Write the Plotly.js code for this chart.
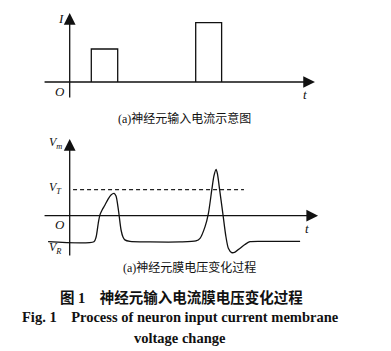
<!DOCTYPE html>
<html>
<head>
<meta charset="utf-8">
<script src="https://cdn.plot.ly/plotly-3.0.1.min.js"></script>
<style>
html,body{margin:0;padding:0;background:#fff;}
#chart{width:391px;height:351px;}
</style>
</head>
<body>
<div id="chart"></div>
<script>
// ---- Data ----
// (a) input current pulses (time units, relative amplitude)
const pulseStart = [9.0, 52.5];
const pulseEnd   = [20.0, 63.3];
const pulseAmp   = [1.0, 1.8];

// (b) membrane voltage trace (time units, voltage units; VR = -10, VT = 10)
const membraneT = [-9.0, 10.1, 11.0, 11.9, 12.6, 13.5, 14.7, 16.0, 17.2, 18.5, 19.3, 20.3, 21.4, 22.2, 23.0, 25.1, 33.5, 46.0, 52.6, 54.3, 56.4, 57.8, 59.2, 60.1, 61.0, 61.6, 62.3, 63.8, 65.1, 66.1, 67.5, 68.9, 71.0, 73.0, 75.1, 83.5, 96.0];
const membraneV = [-10.0, -10.0, -8.2, -2.9, 0.3, 2.2, 4.1, 6.4, 8.0, 8.6, 7.6, 2.2, -5.5, -8.2, -9.3, -9.9, -10.1, -10.1, -9.7, -8.7, -4.2, 0.9, 9.9, 15.3, 17.8, 15.9, 11.2, 0.9, -8.1, -12.5, -14.2, -14.0, -12.5, -11.1, -10.0, -9.9, -9.9];

const thresholdV = 10;
const thresholdT = [1.4, 72.6];

// axis extents (data units)
const topAxisT = [-11.1, 102.2];
const topAxisI = [-0.515, 2.09];
const botAxisT = [-11.1, 103.5];
const botAxisV = [-15.9, 29.5];

// ---- Traces ----
const px = [], py = [];
for (let i = 0; i < pulseStart.length; i++) {
  px.push(pulseStart[i], pulseStart[i], pulseEnd[i], pulseEnd[i], null);
  py.push(0, pulseAmp[i], pulseAmp[i], 0, null);
}

const traces = [
  {x: px, y: py, xaxis: 'x', yaxis: 'y', mode: 'lines', line: {color: '#111', width: 1.3}, hoverinfo: 'skip'},
  {x: thresholdT, y: [thresholdV, thresholdV], xaxis: 'x', yaxis: 'y2', mode: 'lines',
   line: {color: '#222', width: 1.2, dash: '4px,3px'}, hoverinfo: 'skip'},
  {x: membraneT, y: membraneV, xaxis: 'x', yaxis: 'y2', mode: 'lines',
   line: {color: '#111', width: 1.3, shape: 'spline', smoothing: 0.7}, hoverinfo: 'skip'}
];

// ---- Axes drawn as arrows ----
function arrow(xr, yr, x0, y0, x1, y1) {
  return {xref: xr, yref: yr, axref: xr, ayref: yr, x: x1, y: y1, ax: x0, ay: y0,
          text: '', showarrow: true, arrowhead: 2, arrowsize: 1.8, arrowwidth: 1.3, arrowcolor: '#111'};
}
const W = 391, H = 351;
function label(text, xpx, ypx, size, extra) {
  return Object.assign({xref: 'paper', yref: 'paper', x: xpx / W, y: 1 - ypx / H, text: text,
    showarrow: false, xanchor: 'center', yanchor: 'middle',
    font: {family: '"Liberation Serif", "Noto Sans CJK SC", serif', size: size, color: '#111'}}, extra || {});
}

const annotations = [
  arrow('x', 'y', topAxisT[0], 0, topAxisT[1], 0),
  arrow('x', 'y', 0, topAxisI[0], 0, topAxisI[1]),
  arrow('x', 'y2', botAxisT[0], 0, botAxisT[1], 0),
  arrow('x', 'y2', 0, botAxisV[0], 0, botAxisV[1]),
  label('<i>I</i>', 61, 18, 13),
  label('<i>O</i>', 60, 91, 13),
  label('<i>t</i>', 305, 94, 13),
  label('(a)神经元输入电流示意图', 184, 118, 12),
  label('<i>V<sub>m</sub></i>', 55, 143, 12),
  label('<i>V<sub>T</sub></i>', 55, 188, 12),
  label('<i>O</i>', 60, 224, 13),
  label('<i>V<sub>R</sub></i>', 55, 248, 12),
  label('<i>t</i>', 307, 228, 13),
  label('(a)神经元膜电压变化过程', 189, 267, 12),
  label('<b>图 1    神经元输入电流膜电压变化过程</b>', 181, 297, 14.5),
  label('<b>Fig. 1    Process of neuron input current membrane</b>', 180, 317, 14.5),
  label('<b>voltage change</b>', 180, 338, 14.5)
];

const layout = {
  width: W, height: H,
  margin: {l: 0, r: 0, t: 0, b: 0},
  paper_bgcolor: '#fff', plot_bgcolor: '#fff',
  showlegend: false,
  xaxis: {range: [-29.04, 133.875], visible: false, fixedrange: true},
  yaxis: {domain: [1 - 130 / H, 1], range: [-1.4545, 2.4848], visible: false, fixedrange: true},
  yaxis2: {domain: [1 - 260 / H, 1 - 135 / H], range: [-17.04, 31.04], visible: false, fixedrange: true, anchor: 'x'},
  annotations: annotations
};

Plotly.newPlot('chart', traces, layout, {displayModeBar: false, staticPlot: true});
</script>
</body>
</html>
